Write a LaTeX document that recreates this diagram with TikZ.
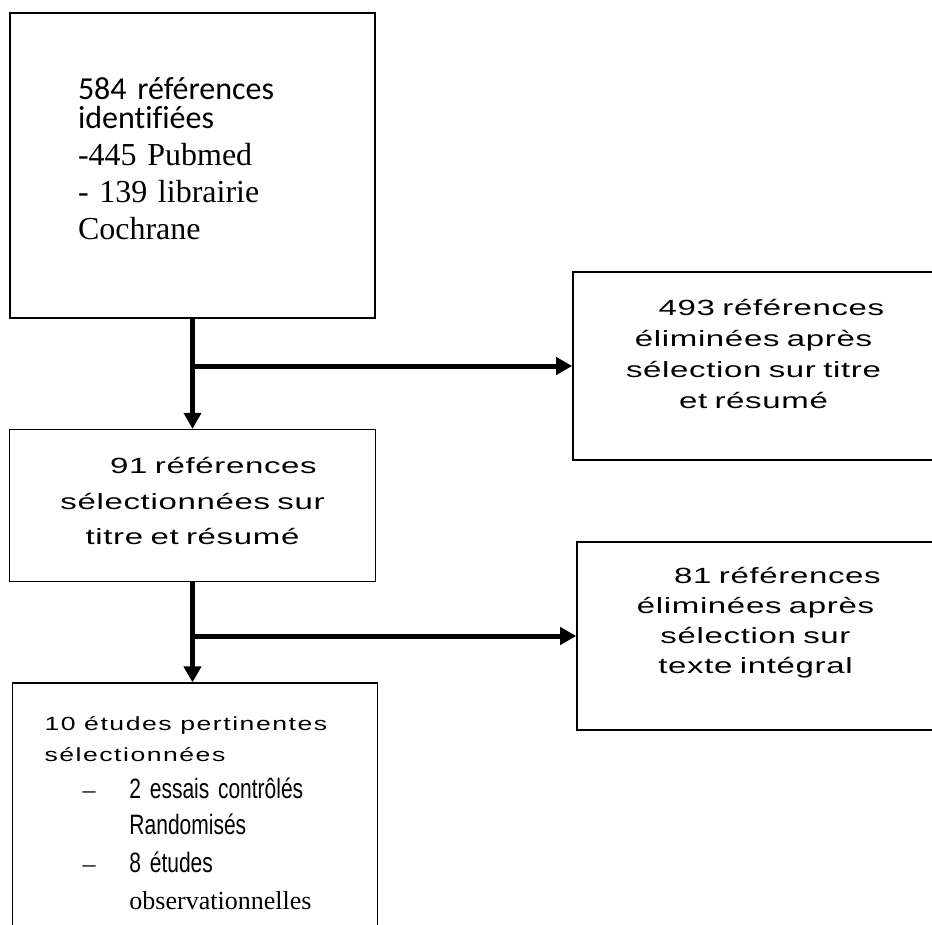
\documentclass[tikz,border=0pt]{standalone}
\usepackage{fontspec}
\setmainfont{Liberation Serif}
\newfontfamily\calibri[Ligatures=NoCommon]{Carlito}
\newfontfamily\arialw[FakeStretch=1.5,LetterSpace=3]{Liberation Sans}
\newfontfamily\arialx[FakeStretch=1.4,LetterSpace=8]{Liberation Sans}
\newfontfamily\arialn[FakeStretch=0.75]{Liberation Sans}
\usetikzlibrary{arrows.meta,positioning}

\begin{document}
\begin{tikzpicture}[>={Triangle[width=17pt,length=16pt]},x=1pt,y=-1pt,
  box/.style={draw,line width=1.6pt,rectangle,inner sep=5pt},
  flow/.style={->,line width=5pt}]
\useasboundingbox (0,0) rectangle (932,924);
\clip (0,0) rectangle (932,924);
\node[box,minimum width=365pt,minimum height=305pt,inner xsep=68pt,text width=229pt,
  align=left,text depth=154pt,font=\fontsize{32}{37}\selectfont] (id) at (192.5,165.5)
  {\calibri 584 références\\[-8pt] identifiées\\ \rmfamily -445 Pubmed\\
   - 139 librairie\\ Cochrane};
\node[box,below=110pt of id,minimum width=366pt,minimum height=152pt,text width=356pt,
  align=center,text depth=80pt,font=\arialw\fontsize{22}{35.5}\selectfont] (sel)
  {\hspace*{42pt}91 références\\ sélectionnées sur\\ titre et résumé};
\node[box,below=100pt of sel,xshift=2.5pt,minimum width=365pt,minimum height=262pt,
  inner xsep=32pt,text width=301pt,align=left,text depth=182pt,
  font=\fontsize{26}{36}\selectfont] (fin)
  {{\arialx\fontsize{19}{36}\selectfont 10 études pertinentes\\[-5pt] sélectionnées}\\[1pt]
   \makebox[85pt][l]{\hspace*{38pt}–}{\arialn\fontsize{28}{36}\selectfont 2 essais contrôlés}\\
   \hspace*{85pt}{\arialn\fontsize{28}{36}\selectfont Randomisés}\\[2pt]
   \makebox[85pt][l]{\hspace*{38pt}–}{\arialn\fontsize{28}{36}\selectfont 8 études}\\[1pt]
   \hspace*{85pt}observationnelles};
\node[box,minimum width=361pt,minimum height=188pt,text width=351pt,align=center,
  text depth=118pt,font=\arialw\fontsize{22}{31}\selectfont] (ex1) at (753.5,366)
  {\hspace*{36pt}493 références\\ éliminées après\\ sélection sur titre\\ et résumé};
\node[box,minimum width=357pt,minimum height=188pt,text width=347pt,align=center,
  text depth=122pt,font=\arialw\fontsize{22}{30}\selectfont] (ex2) at (755.5,636)
  {\hspace*{44pt}81 références\\ éliminées après\\ sélection sur\\ texte intégral};
\path[flow] (id.south) edge (id.south |- sel.north)
            (id.south |- ex1.west) edge (ex1.west)
            (sel.south) edge (sel.south |- fin.north)
            (sel.south |- ex2.west) edge (ex2.west);
\end{tikzpicture}
\end{document}
